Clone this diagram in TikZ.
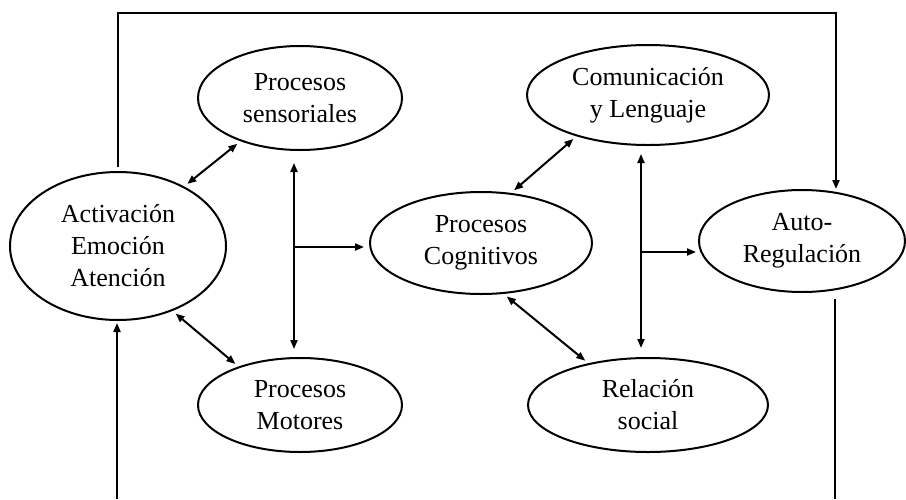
\documentclass[tikz,border=0pt]{standalone}
\usepackage{fontspec}
\setmainfont{Liberation Serif}
\usetikzlibrary{shapes.geometric,arrows.meta}
\begin{document}
\begin{tikzpicture}[x=0.5pt,y=-0.5pt,
	bubble/.style={draw,ellipse,line width=1pt,inner sep=0pt,align=center,font=\fontsize{13}{16}\selectfont},
	link/.style={line width=1pt,-{Triangle[length=4.5pt,width=3.5pt]}},
	dlink/.style={line width=1pt,{Triangle[length=4.5pt,width=3.5pt]}-{Triangle[length=4.5pt,width=3.5pt]}}]

	\useasboundingbox (0,0) rectangle (906,499);

	% left group
	\node[bubble,minimum width=108pt,minimum height=74pt] (act) at (118,246) {Activación\\Emoción\\Atención};
	\node[bubble,minimum width=102pt,minimum height=52pt] (sens) at (300,98) {Procesos\\sensoriales};
	\node[bubble,minimum width=102pt,minimum height=47pt] (mot) at (300,405) {Procesos\\Motores};

	% middle
	\node[bubble,minimum width=111pt,minimum height=51pt] (cog) at (481,243) {Procesos\\Cognitivos};

	% right group
	\node[bubble,minimum width=121pt,minimum height=50pt] (com) at (648,95) {Comunicación\\y Lenguaje};
	\node[bubble,minimum width=120pt,minimum height=47pt] (rel) at (648,405) {Relación\\social};
	\node[bubble,minimum width=103pt,minimum height=51pt] (auto) at (802,241) {Auto-\\Regulación};

	%arrows left
	\draw[dlink,shorten <=2pt,shorten >=2pt] (act.42) -- (sens.216);
	\draw[dlink,shorten <=2pt,shorten >=2pt] (act.-50) -- (mot.148);
	\coordinate (j1) at (294,247);
	\draw[dlink,shorten <=6pt,shorten >=4pt] (sens.south -| j1) -- (mot.north -| j1);
	\draw[link,shorten >=2.5pt] (j1) -- (j1 -| cog.west);

	%arrows right
	\draw[dlink,shorten <=2pt,shorten >=2pt] (com.210) -- (cog.59);
	\draw[dlink,shorten <=2pt,shorten >=2pt] (cog.-66) -- (rel.145);
	\coordinate (j2) at (641,252);
	\draw[dlink,shorten <=4pt,shorten >=4.5pt] (com.south -| j2) -- (rel.north -| j2);
	\draw[link,shorten >=1pt] (j2) -- (j2 -| auto.west);

	% loop over the top
	\coordinate (top) at (836,13);
	\draw[link,shorten <=2pt] (act.north) |- (top) -- (top |- auto.north);

	% loop at the bottom
	\coordinate (bl) at (117,499);
	\draw[link,shorten >=1pt] (bl) -- (bl |- act.south);
	\coordinate (br) at (835,499);
	\draw[line width=1pt,shorten <=3pt] (br |- auto.south) -- (br);

\end{tikzpicture}
\end{document}
